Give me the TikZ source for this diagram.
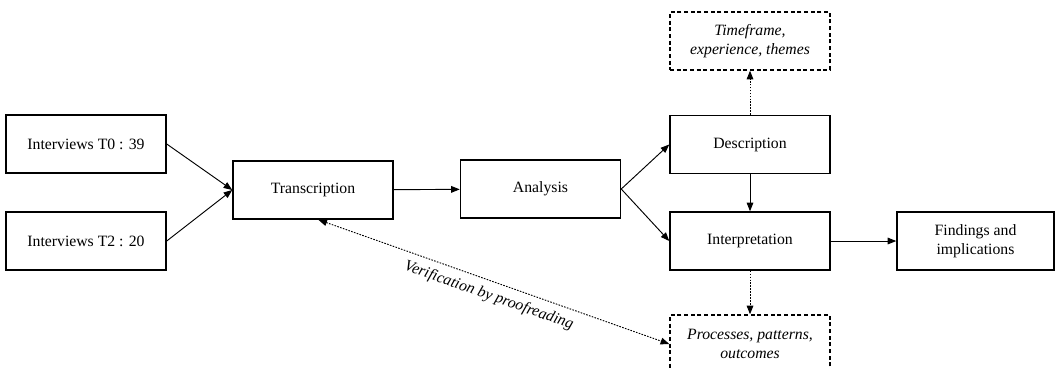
\documentclass[tikz,border=0pt]{standalone}
\usepackage{fontspec}
\setmainfont{Liberation Serif}
\usetikzlibrary{arrows.meta}
\tikzset{>={Triangle[length=6.5pt,width=5pt]}}
\begin{document}
\begin{tikzpicture}[x=0.75pt,y=-0.75pt,
    box/.style={draw,line width=1.1pt,minimum width=120pt,minimum height=43.5pt,
        inner sep=2pt,align=center,font=\fontsize{11.8}{14}\selectfont},
    notebox/.style={box,dash pattern=on 3pt off 2pt,
        font=\fontsize{11.8}{14}\selectfont\itshape},
    link/.style={line width=0.7pt,->},
    dotlink/.style={link,dash pattern=on 1.2pt off 1pt}]
    \useasboundingbox (0,0) rectangle (1055,368);
    \node[box] (t0) at (86,144) {Interviews T0 : 39};
    \node[box] (t2) at (86,241) {Interviews T2 : 20};
    \node[box] (trans) at (313,190) {Transcription};
    \node[box] (ana) at (540.5,189) {Analysis};
    \node[box] (desc) at (750,144.5) {Description};
    \node[box] (interp) at (750,241) {Interpretation};
    \node[box,minimum width=117.75pt] (find) at (975.5,241) {Findings and\\implications};
    \node[notebox] (time) at (750,41) {Timeframe,\\experience, themes};
    \node[notebox] (proc) at (750,344) {Processes, patterns,\\outcomes};
    \draw[link] (t0.east) -- (trans.west);
    \draw[link] (t2.east) -- (trans.west);
    \draw[link] (trans) -- (ana);
    \draw[link] (ana.east) -- (desc.west);
    \draw[link] (ana.east) -- (interp.west);
    \draw[link] (desc) -- (interp);
    \draw[link] (interp) -- (find);
    \draw[dotlink] (desc) -- (time);
    \draw[dotlink] (interp) -- (proc);
    \draw[dotlink,<->] ([xshift=4pt]trans.south) -- node[midway,below=2pt,sloped,
        font=\fontsize{11.8}{14}\selectfont\itshape] {Verification by proofreading} (proc.west);
\end{tikzpicture}
\end{document}
